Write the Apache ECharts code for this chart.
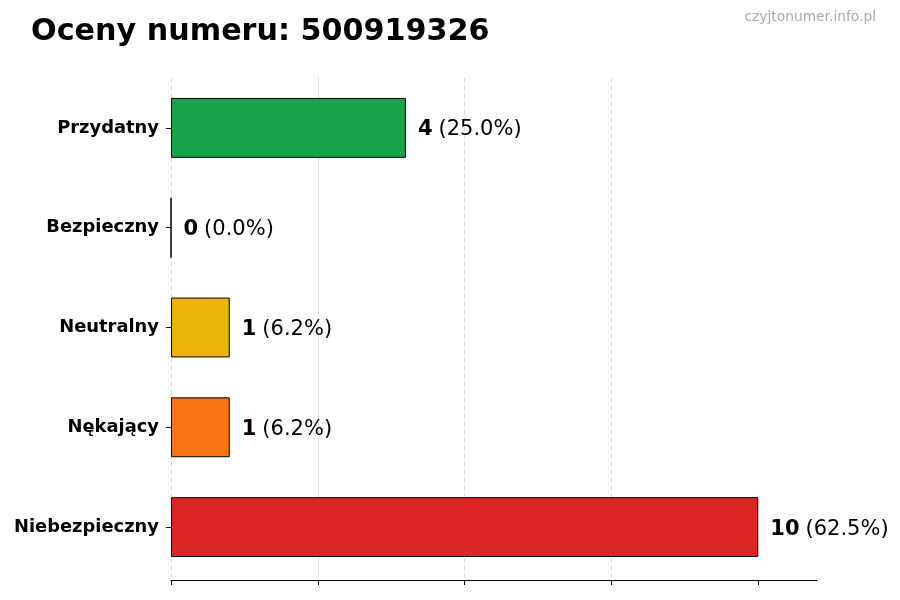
<!DOCTYPE html>
<html>
<head>
<meta charset="utf-8">
<script src="https://cdn.jsdelivr.net/npm/echarts@6/dist/echarts.min.js"></script>
<style>html,body{margin:0;padding:0;background:#fff}#c{width:900px;height:600px}</style>
</head>
<body>
<div id="c"></div>
<script>
const categories = ['Przydatny', 'Bezpieczny', 'Neutralny', 'Nękający', 'Niebezpieczny'];
const counts = [4, 0, 1, 1, 10];
const percentLabels = ['25.0', '0.0', '6.2', '6.2', '62.5'];
const barColors = ['#16a34a', '#2563eb', '#eab308', '#f97316', '#dc2626'];
const xTicks = [0, 2.5, 5, 7.5, 10];
const titleText = 'Oceny numeru: 500919326';
const watermark = 'czyjtonumer.info.pl';

const FONT = 'DejaVu Sans';
const chart = echarts.init(document.getElementById('c'), null, {renderer: 'canvas'});
chart.setOption({
  animation: false,
  backgroundColor: '#ffffff',
  title: [
    {text: titleText, left: 31, top: 17, padding: 0, textStyle: {fontFamily: FONT, fontSize: 30.2, fontWeight: 'bold', color: '#000'}},
    {text: watermark, right: 24, top: 10, padding: 0, textStyle: {fontFamily: FONT, fontSize: 13.8, fontWeight: 'normal', color: '#aaaaaa'}}
  ],
  grid: {left: 171, right: 83, top: 78, bottom: 23, containLabel: false},
  xAxis: {
    type: 'value', min: 0, max: 11, interval: 2.5, offset: 3,
    axisLine: {show: true, lineStyle: {color: '#000', width: 1.2}},
    axisTick: {show: true, length: 5, lineStyle: {color: '#000', width: 1}, customValues: xTicks},
    axisLabel: {show: false},
    splitLine: {show: true, showMaxLine: false, lineStyle: {color: '#d0d0d0', type: [5, 3], width: 0.8}}
  },
  yAxis: {
    type: 'category', data: categories, inverse: true,
    axisLine: {show: false},
    axisTick: {show: true, alignWithLabel: true, length: 5, lineStyle: {color: '#000', width: 1}},
    axisLabel: {fontFamily: FONT, fontSize: 17.9, fontWeight: 'bold', color: '#000', margin: 12, padding: [7, 0, 0, 0]},
    splitLine: {show: false}
  },
  series: [{
    type: 'bar',
    barWidth: '60%',
    data: counts.map((v, i) => ({value: v, itemStyle: {color: barColors[i]}})),
    itemStyle: {borderColor: '#000', borderWidth: 1},
    label: {
      show: true, position: 'right', distance: 12, offset: [0, 2],
      formatter: p => '{b|' + counts[p.dataIndex] + '}{s| }{n|(' + percentLabels[p.dataIndex] + '%)}',
      rich: {
        b: {fontFamily: FONT, fontSize: 21, fontWeight: 'bold', color: '#000'},
        s: {fontFamily: FONT, fontSize: 21, width: 6},
        n: {fontFamily: FONT, fontSize: 21, fontWeight: 'normal', color: '#000'}
      }
    }
  }]
});
</script>
</body>
</html>
